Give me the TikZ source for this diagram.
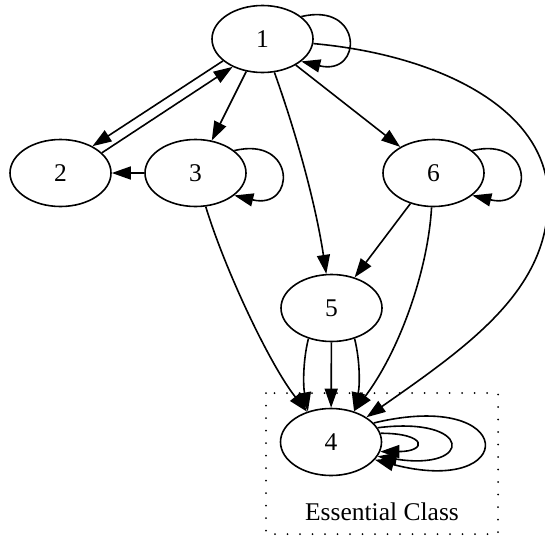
\documentclass[tikz,border=0pt]{standalone}
\usepackage{fontspec}
\setmainfont{Liberation Serif}
\usetikzlibrary{shapes.geometric,arrows.meta}
\begin{document}
\begin{tikzpicture}[x=1pt,y=-1pt,
  vtx/.style={draw,ellipse,line width=1.6pt,minimum width=101pt,minimum height=67pt,inner sep=0pt,font=\fontsize{25.5}{30}\selectfont},
  edge/.style={line width=1.6pt,-{Triangle[length=19pt,width=13pt]}},
  cluster/.style={line width=2pt,line cap=round,dash pattern=on 0pt off 12.5pt},
  lbl/.style={font=\fontsize{25.5}{30}\selectfont,anchor=base,inner sep=0pt}]
\useasboundingbox (0,0) rectangle (545,538);
% cluster box
\draw[cluster] (266,393) rectangle (498,534);
\node[lbl] (ess) at (382,520) {Essential Class};
% nodes
\node[vtx] (n1) at (262.5,39) {1};
\node[vtx] (n2) at (60.5,173) {2};
\node[vtx] (n3) at (195.5,173) {3};
\node[vtx] (n6) at (433.5,173) {6};
\node[vtx] (n5) at (331.5,308) {5};
\node[vtx] (n4) at (331,442) {4};
\coordinate (w14) at (548,200);
% edges
\draw[edge] (n1.209.6) -- (n2.40.4);
\draw[edge] (n2.26.8) -- (n1.223.6);
\draw[edge] (n1) -- (n3);
\draw[edge] (n3) -- (n2);
\draw[edge] (n1) .. controls (295,130) and (315,200) .. (n5);
\draw[edge] (n1) -- (n6);
\draw[edge] (n1) .. controls (440,55) and (550,110) .. (w14) .. controls (548,290) and (470,345) .. (n4);
\draw[edge] (n3) .. controls (225,270) and (270,365) .. (n4);
\draw[edge] (n6) -- (n5);
\draw[edge] (n6) .. controls (428,270) and (400,350) .. (n4);
\draw[edge] (n5.-127) .. controls (303,360) and (303,385) .. (n4.127);
\draw[edge] (n5) -- (n4);
\draw[edge] (n5.-53) .. controls (360,360) and (360,385) .. (n4.53);
% self loops
\draw[edge] (n1.30) .. controls +(62,-15) and +(62,15) .. (n1.-30);
\draw[edge] (n3.30) .. controls +(62,-15) and +(62,15) .. (n3.-30);
\draw[edge] (n6.30) .. controls +(62,-15) and +(62,15) .. (n6.-30);
\draw[edge] (n4.24) .. controls +(145,-35) and +(145,38) .. (n4.-22);
\draw[edge] (n4.17) .. controls +(96,-12) and +(96,15) .. (n4.-17);
\draw[edge] (n4.10) .. controls +(47,0) and +(47,0) .. (n4.-11);
\end{tikzpicture}
\end{document}
